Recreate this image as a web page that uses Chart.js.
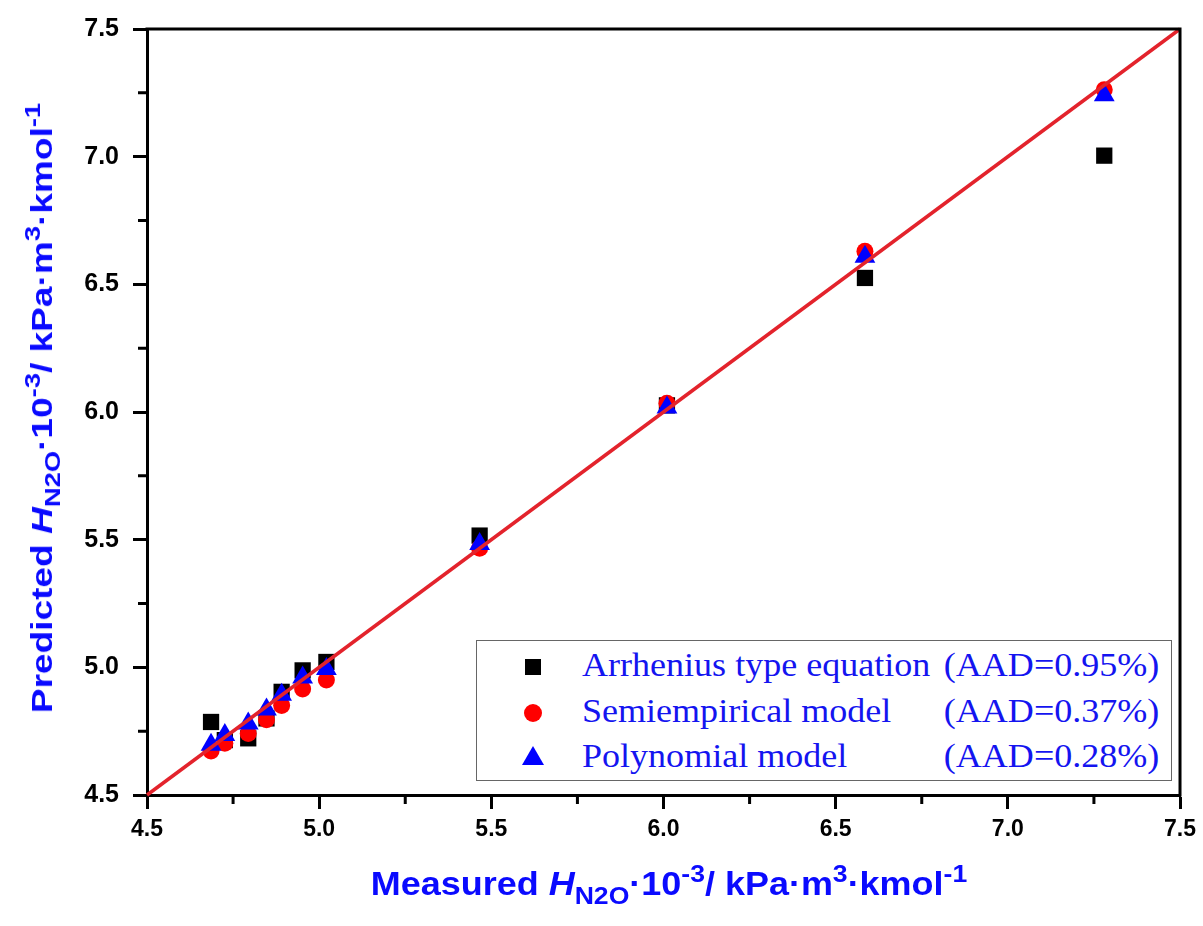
<!DOCTYPE html>
<html>
<head>
<meta charset="utf-8">
<script src="https://cdn.jsdelivr.net/npm/chart.js@4.4.1/dist/chart.umd.min.js"></script>
<style>
html,body{margin:0;padding:0;background:#fff;}
#wrap{position:relative;width:1203px;height:926px;overflow:hidden;background:#fff;}
#c{position:absolute;left:0;top:0;}
.ttl{position:absolute;font-family:'Liberation Sans',Arial,sans-serif;font-weight:bold;color:#0a0aff;white-space:nowrap;line-height:1;transform-origin:50% 50%;}
.ttl i{font-style:italic;}
.ttl .sb{font-size:0.74em;vertical-align:-0.36em;line-height:0;}
.ttl .sp{font-size:0.74em;vertical-align:0.55em;line-height:0;}
.lt{position:absolute;font-family:'Liberation Serif','Times New Roman',serif;font-size:34px;line-height:1;color:#1414f0;white-space:nowrap;}
.lt.l{transform-origin:0 50%;transform:scaleX(1.06);}
.lt.r{transform-origin:100% 50%;transform:scaleX(1.06);}
.mk{position:absolute;}
#legend{position:absolute;left:476px;top:640px;width:696px;height:141px;border:1.5px solid #666;box-sizing:border-box;background:#fff;}
</style>
</head>
<body>
<div id="wrap">
  <canvas id="c" width="1203" height="926"></canvas>
  <div id="xt" class="ttl" style="left:669px;top:867px;font-size:33px;">Measured <i>H</i><span class="sb">N2O</span>·10<span class="sp">-3</span>/ kPa·m<span class="sp">3</span>·kmol<span class="sp">-1</span></div>
  <div id="yt" class="ttl" style="left:42px;top:408px;font-size:30px;">Predicted <i>H</i><span class="sb">N2O</span>·10<span class="sp">-3</span>/ kPa·m<span class="sp">3</span>·kmol<span class="sp">-1</span></div>
  <div id="legend"></div>
</div>
<script>
// ---- data ----
const measured      = [4.686, 4.726, 4.794, 4.847, 4.891, 4.952, 5.021, 5.466, 6.010, 6.585, 7.280];
const arrhenius     = [4.786, 4.715, 4.722, 4.800, 4.904, 4.988, 5.021, 5.516, 6.026, 6.525, 7.004];
const semiempirical = [4.672, 4.703, 4.741, 4.795, 4.851, 4.915, 4.950, 5.466, 6.034, 6.630, 7.262];
const polynomial    = [4.697, 4.735, 4.780, 4.835, 4.893, 4.960, 4.993, 5.483, 6.018, 6.608, 7.241];
const parityLine    = [4.5, 7.5];
const tickValues    = [4.5, 5.0, 5.5, 6.0, 6.5, 7.0, 7.5];
const minorTicks    = [4.75, 5.25, 5.75, 6.25, 6.75, 7.25];
const seriesNames   = ['Arrhenius type equation', 'Semiempirical model', 'Polynomial model'];
const seriesAAD     = ['(AAD=0.95%)', '(AAD=0.37%)', '(AAD=0.28%)'];

const pts = ys => measured.map((x, i) => ({x: x, y: ys[i]}));

const frame = {
  id: 'frame',
  afterDraw(chart) {
    const {ctx, chartArea: a, scales: {x, y}} = chart;
    ctx.save();
    ctx.strokeStyle = '#000';
    ctx.lineWidth = 3;
    ctx.beginPath();
    ctx.moveTo(a.left - 1.5, a.top);
    ctx.lineTo(a.right, a.top);
    ctx.lineTo(a.right, a.bottom + 1.5);
    ctx.stroke();
    ctx.beginPath();
    minorTicks.forEach(v => {
      const px = x.getPixelForValue(v);
      ctx.moveTo(px, a.bottom);
      ctx.lineTo(px, a.bottom + 9);
      const py = y.getPixelForValue(v);
      ctx.moveTo(a.left, py);
      ctx.lineTo(a.left - 9, py);
    });
    ctx.stroke();
    ctx.restore();
  }
};

const axisCommon = (size) => ({
  type: 'linear',
  min: 4.5, max: 7.5,
  afterBuildTicks: s => { s.ticks = tickValues.map(v => ({value: v})); },
  ticks: {
    color: '#000',
    font: {family: "'Liberation Sans',Arial,sans-serif", size: size, weight: 'bold'},
    callback: v => Number(v).toFixed(1),
    autoSkip: false,
    maxRotation: 0
  },
  grid: {display: true, drawOnChartArea: false, drawTicks: true, tickLength: 14, tickWidth: 3, tickColor: '#000'},
  border: {display: true, color: '#000', width: 3}
});

const xAxis = axisCommon(23);
xAxis.ticks.padding = 7;
xAxis.afterFit = s => { s.height = 131; };
const yAxis = axisCommon(25);
yAxis.ticks.padding = 14;
yAxis.afterFit = s => { s.width = 147; };

new Chart(document.getElementById('c'), {
  type: 'scatter',
  data: {
    datasets: [
      {label: 'parity', type: 'line', data: parityLine.map(v => ({x: v, y: v})),
       borderColor: '#e3232c', borderWidth: 3.5, pointRadius: 0, fill: false, order: 0, clip: false},
      {label: seriesNames[2], data: pts(polynomial), pointStyle: 'triangle', pointRadius: 12,
       backgroundColor: '#0000ff', borderWidth: 0, order: 1},
      {label: seriesNames[1], data: pts(semiempirical), pointStyle: 'circle', pointRadius: 8.5,
       backgroundColor: '#ff0000', borderWidth: 0, order: 2},
      {label: seriesNames[0], data: pts(arrhenius), pointStyle: 'rect', pointRadius: 11.5,
       backgroundColor: '#000000', borderWidth: 0, order: 3}
    ]
  },
  options: {
    responsive: false,
    animation: false,
    devicePixelRatio: 1,
    layout: {padding: {left: 0, top: 27, right: 22, bottom: 0}},
    plugins: {legend: {display: false}, tooltip: {enabled: false}, title: {display: false}},
    scales: {x: xAxis, y: yAxis}
  },
  plugins: [frame]
});

// ---- legend (HTML text) ----
const wrap = document.getElementById('wrap');
const baseTops = [648, 694, 739];
const markerCenters = [667, 713, 757];
const markerCss = [
  'width:16px;height:16px;background:#000;margin-left:-8px;margin-top:-8px;',
  'width:18px;height:18px;border-radius:50%;background:#f00;margin-left:-9px;margin-top:-9px;',
  'width:0;height:0;border-left:11px solid transparent;border-right:11px solid transparent;border-bottom:19px solid #00f;margin-left:-11px;margin-top:-11px;'
];
seriesNames.forEach((name, i) => {
  const m = document.createElement('div');
  m.className = 'mk';
  m.style.cssText = 'left:533px;top:' + markerCenters[i] + 'px;' + markerCss[i];
  wrap.appendChild(m);
  const t = document.createElement('div');
  t.className = 'lt l';
  t.style.left = '582px';
  t.style.top = baseTops[i] + 'px';
  t.textContent = name;
  wrap.appendChild(t);
  const a = document.createElement('div');
  a.className = 'lt r';
  a.style.right = (1203 - 1159) + 'px';
  a.style.top = baseTops[i] + 'px';
  a.textContent = seriesAAD[i];
  wrap.appendChild(a);
});

function fitTitles() {
  const xt = document.getElementById('xt');
  const kx = 596 / xt.offsetWidth;
  xt.style.transform = 'translateX(-50%) scaleX(' + kx + ')';
  const yt = document.getElementById('yt');
  const ky = 610 / yt.offsetWidth;
  yt.style.transform = 'translate(-50%,-50%) rotate(-90deg) scaleX(' + ky + ')';
}
fitTitles();
if (document.fonts && document.fonts.ready) document.fonts.ready.then(fitTitles);
</script>
</body>
</html>
